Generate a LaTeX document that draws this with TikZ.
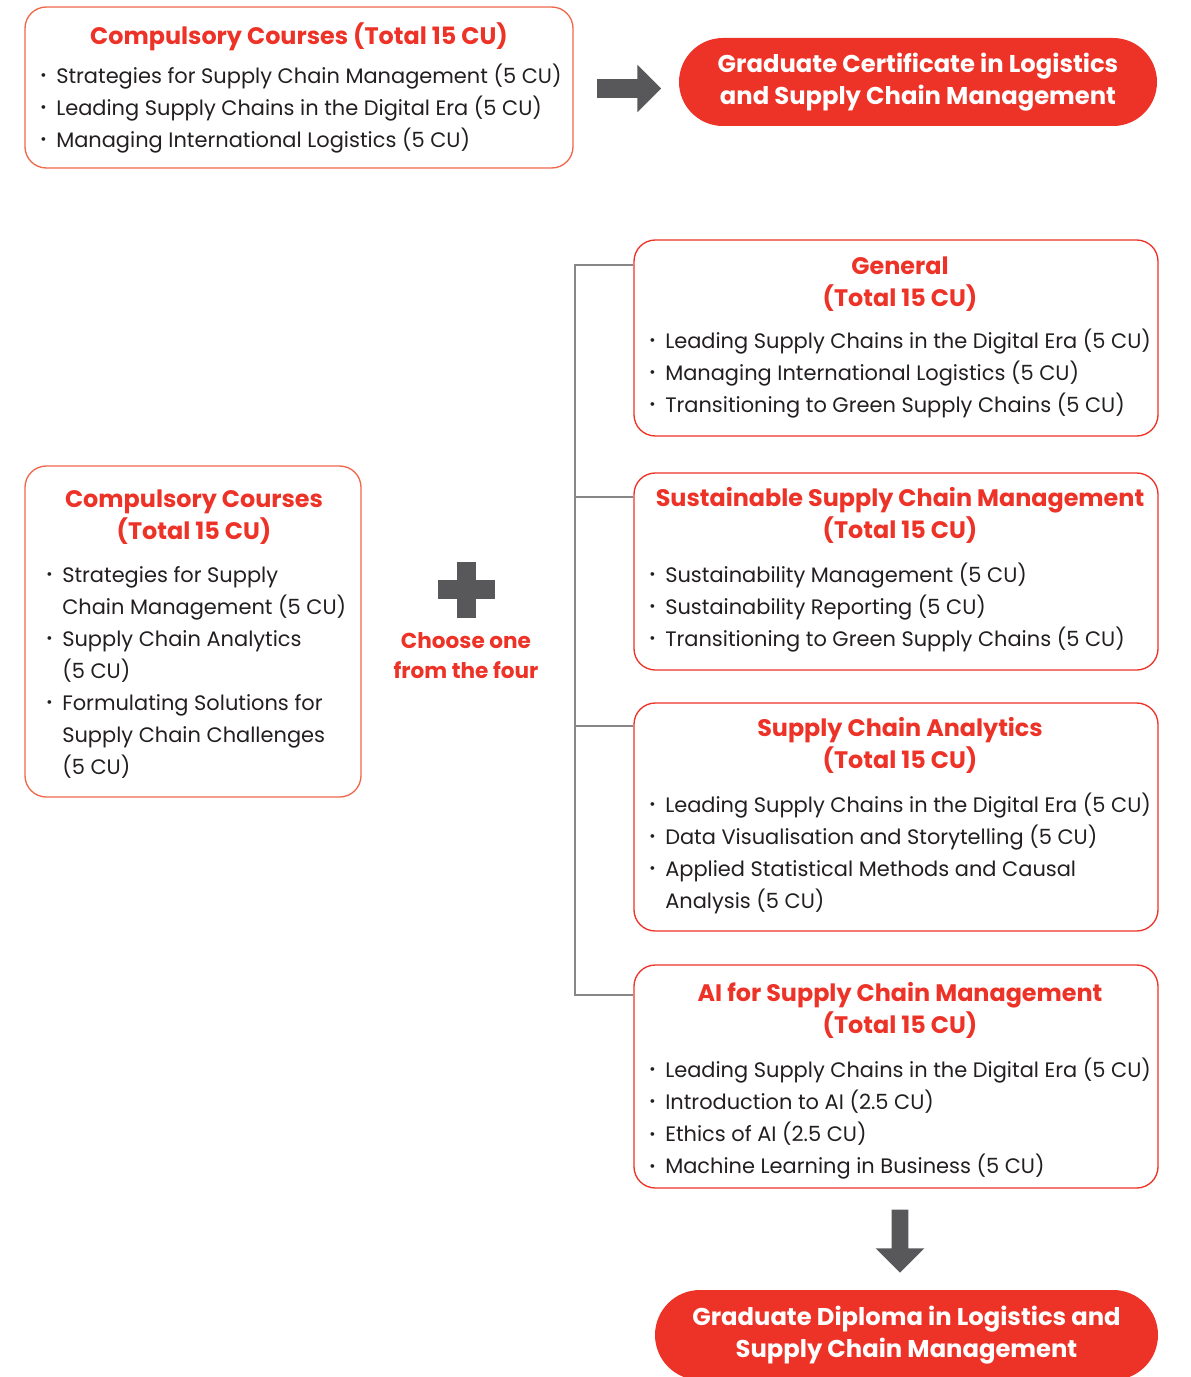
\documentclass[tikz,border=0pt]{standalone}
\usepackage{fontspec}
\setmainfont{Poppins}
\usetikzlibrary{positioning,calc,shapes.arrows}

\definecolor{SCRed}{RGB}{237,50,39}
\definecolor{SCCoral}{RGB}{241,103,75}
\definecolor{SCArrow}{RGB}{88,88,90}
\definecolor{SCLine}{RGB}{135,135,135}
\definecolor{SCInk}{RGB}{35,31,32}

\newcommand{\cubul}{\makebox[12pt][l]{\raisebox{0.12em}{\scalebox{0.72}{\textbullet}}}}
\newcommand{\cuitem}[1]{\cubul#1}
\newcommand{\cucont}[1]{\hspace*{12pt}#1}
\newcommand{\culist}[1]{\parbox[t]{420pt}{\raggedright #1}}
\newcommand{\cuhead}[1]{\parbox[t]{420pt}{\centering #1}}

\tikzset{
    coursebox/.style={draw=SCRed, line width=1pt, rounded corners=16pt, fill=white, inner sep=0pt},
    corebox/.style={coursebox, draw=SCCoral},
    boxtitle/.style={font=\bfseries\fontsize{17.9}{24}\selectfont, text=SCRed, inner sep=0pt, anchor=base},
    boxlist/.style={font=\fontsize{15.7}{24}\selectfont, text=SCInk, inner sep=0pt, anchor=base west},
    award/.style={fill=SCRed, text=white, font=\bfseries\fontsize{18.2}{24}\selectfont, align=center, inner sep=0pt},
    blockarrow/.style={single arrow, fill=SCArrow, draw=none, inner xsep=0pt, single arrow head indent=0pt},
    plusbar/.style={fill=SCArrow, draw=none, inner sep=0pt},
    branch/.style={draw=SCLine, line width=2.2pt}
}

\begin{document}
\begin{tikzpicture}[x=0.75pt, y=-0.75pt]
    \useasboundingbox (0,0) rectangle (1190,1377);

    % --- Graduate Certificate ---
    \node[corebox, minimum width=411pt, minimum height=120.75pt] (core1) at (299,87.5) {};
    \node[boxtitle] (core1t) at (299,44.5) {\cuhead{Compulsory Courses (Total 15 CU)}};
    \node[boxlist] (core1l) at (40,83.5) {\culist{%
        \cuitem{Strategies for Supply Chain Management (5 CU)}\\
        \cuitem{Leading Supply Chains in the Digital Era (5 CU)}\\
        \cuitem{Managing International Logistics (5 CU)}}};

    \node[blockarrow, inner ysep=6.75pt, single arrow head extend=10.9pt, minimum height=48pt] (arr1) at (624.5,88.5) {};

    \node[award, minimum width=358.5pt, minimum height=66pt, rounded corners=33pt] (cert) at (918,82)
        {Graduate Certificate in Logistics\\and Supply Chain Management};

    % --- Graduate Diploma: compulsory part ---
    \node[corebox, minimum width=252pt, minimum height=248.25pt] (core2) at (193,631.5) {};
    \node[boxtitle] (core2t) at (194,507.5) {\cuhead{Compulsory Courses\\(Total 15 CU)}};
    \node[boxlist] (core2l) at (46,582.5) {\culist{%
        \cuitem{Strategies for Supply}\\
        \cucont{Chain Management (5 CU)}\\
        \cuitem{Supply Chain Analytics}\\
        \cucont{(5 CU)}\\
        \cuitem{Formulating Solutions for}\\
        \cucont{Supply Chain Challenges}\\
        \cucont{(5 CU)}}};

    % plus sign
    \node[plusbar, minimum width=42.75pt, minimum height=14.25pt] (plush) at (466.5,589.5) {};
    \node[plusbar, minimum width=14.25pt, minimum height=42pt] (plusv) at (466.5,589.5) {};
    \node[boxtitle, font=\bfseries\fontsize{16.2}{22.5}\selectfont] (choose) at (466,648.5)
        {\cuhead{Choose one\\from the four}};

    % --- Specialisations ---
    \node[coursebox, minimum width=393pt, minimum height=147pt] (gen) at (896,338) {};
    \node[boxtitle] (gent) at (900,274.5) {\cuhead{General\\(Total 15 CU)}};
    \node[boxlist] (genl) at (649,348.5) {\culist{%
        \cuitem{Leading Supply Chains in the Digital Era (5 CU)}\\
        \cuitem{Managing International Logistics (5 CU)}\\
        \cuitem{Transitioning to Green Supply Chains (5 CU)}}};

    \node[coursebox, minimum width=393pt, minimum height=147.75pt] (sus) at (896,571.5) {};
    \node[boxtitle] (sust) at (900,506.5) {\cuhead{Sustainable Supply Chain Management\\(Total 15 CU)}};
    \node[boxlist] (susl) at (649,582.5) {\culist{%
        \cuitem{Sustainability Management (5 CU)}\\
        \cuitem{Sustainability Reporting (5 CU)}\\
        \cuitem{Transitioning to Green Supply Chains (5 CU)}}};

    \node[coursebox, minimum width=393pt, minimum height=171pt] (ana) at (896,817) {};
    \node[boxtitle] (anat) at (900,736.5) {\cuhead{Supply Chain Analytics\\(Total 15 CU)}};
    \node[boxlist] (anal) at (649,812.5) {\culist{%
        \cuitem{Leading Supply Chains in the Digital Era (5 CU)}\\
        \cuitem{Data Visualisation and Storytelling (5 CU)}\\
        \cuitem{Applied Statistical Methods and Causal}\\
        \cucont{Analysis (5 CU)}}};

    \node[coursebox, minimum width=393pt, minimum height=167.25pt] (ai) at (896,1076.5) {};
    \node[boxtitle] (ait) at (900,1001.5) {\cuhead{AI for Supply Chain Management\\(Total 15 CU)}};
    \node[boxlist] (ail) at (649,1077.5) {\culist{%
        \cuitem{Leading Supply Chains in the Digital Era (5 CU)}\\
        \cuitem{Introduction to AI (2.5 CU)}\\
        \cuitem{Ethics of AI (2.5 CU)}\\
        \cuitem{Machine Learning in Business (5 CU)}}};

    % --- bracket joining the four options ---
    \coordinate (j1) at (575,265);
    \coordinate (j2) at (575,497);
    \coordinate (j3) at (575,726);
    \coordinate (j4) at (575,995);
    \draw[branch] (j1 -| gen.west) -- (j1) -- (j4) -- (j4 -| ai.west);
    \draw[branch] (j2) -- (j2 -| sus.west);
    \draw[branch] (j3) -- (j3 -| ana.west);

    \node[blockarrow, rotate=-90, inner ysep=6pt, single arrow head extend=12pt, minimum height=47.25pt] (arr2) at (900,1237) {};

    \node[award, minimum width=377.25pt, minimum height=67.5pt, rounded corners=33.75pt] (dipl) at (906.5,1335)
        {Graduate Diploma in Logistics and\\Supply Chain Management};

\end{tikzpicture}
\end{document}
